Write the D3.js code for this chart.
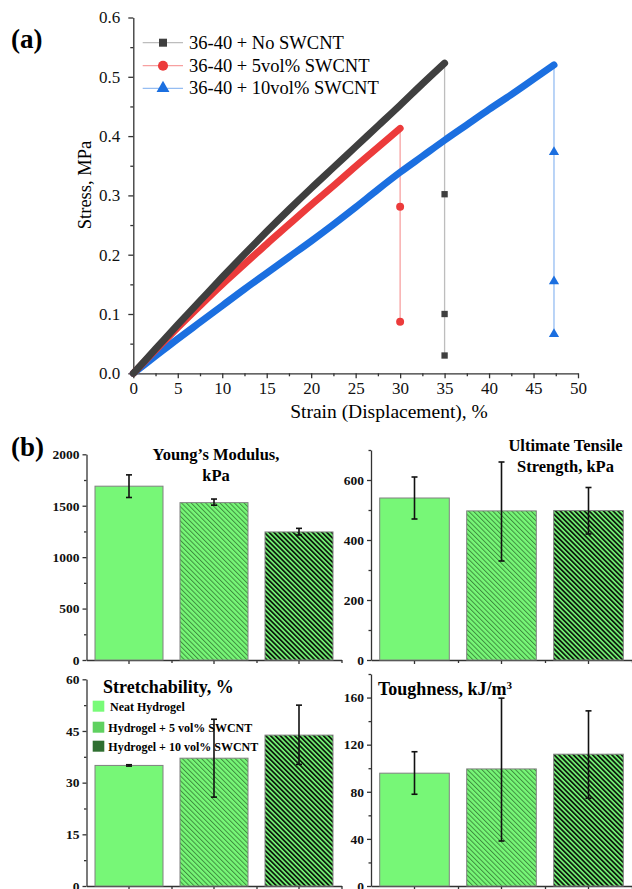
<!DOCTYPE html>
<html>
<head>
<meta charset="utf-8">
<script src="https://cdn.jsdelivr.net/npm/d3@7"></script>
<style>
  body { margin: 0; background: #fff; }
  svg { display: block; font-family: "Liberation Serif", "Times New Roman", serif; }
  .axis path, .axis line { stroke: #333; stroke-width: 1.3; }
  .axis text { fill: #111; }
</style>
</head>
<body>
<div class="chart"></div>
<script>
// DATA ------------------------------------

// (a) stress-strain curves
const strainNo = [0, 2.5, 5, 7.5, 10, 12.5, 15, 17.5, 20, 22.5, 25, 27.5, 30, 32.5, 35];
const stressNo = [0, 0.041, 0.082, 0.122, 0.162, 0.201, 0.239, 0.276, 0.312, 0.347, 0.382, 0.417, 0.452, 0.488, 0.523];
const strain5 = [0, 2.5, 5, 7.5, 10, 12.5, 15, 17.5, 20, 22.5, 25, 27.5, 30];
const stress5 = [0, 0.039, 0.077, 0.114, 0.150, 0.184, 0.218, 0.251, 0.284, 0.316, 0.349, 0.381, 0.413];
const strain10 = [0, 2.5, 5, 7.5, 10, 12.5, 15, 17.5, 20, 22.5, 25, 27.5, 30, 32.5, 35, 37.5, 40, 42.5, 45, 47.3];
const stress10 = [0, 0.029, 0.058, 0.086, 0.114, 0.142, 0.169, 0.196, 0.223, 0.251, 0.280, 0.310, 0.339, 0.366, 0.393, 0.419, 0.445, 0.470, 0.496, 0.520];

// points after failure (drop)
const dropNo = [0.302, 0.100, 0.030];
const drop5 = [0.281, 0.087];
const drop10 = [0.373, 0.155, 0.066];

const seriesNames = ['36-40 + No SWCNT', '36-40 + 5vol% SWCNT', '36-40 + 10vol% SWCNT'];

// (b) bar panels
const groups = ['Neat Hydrogel', 'Hydrogel + 5 vol% SWCNT', 'Hydrogel + 10 vol% SWCNT'];
const youngMean = [1690, 1530, 1245];
const youngLow = [1580, 1505, 1215];
const youngHigh = [1800, 1565, 1280];
const utsMean = [540, 497, 498];
const utsLow = [470, 330, 420];
const utsHigh = [610, 660, 575];
const stretchMean = [35.0, 37.1, 43.8];
const stretchLow = [34.8, 25.8, 35.3];
const stretchHigh = [35.2, 48.4, 52.5];
const toughMean = [95.8, 99.4, 111.9];
const toughLow = [77.9, 38.2, 74.5];
const toughHigh = [114.0, 159.5, 148.7];

// SVG -------------------------------------
const W = 632, H = 889;
const svg = d3.select('.chart').append('svg')
    .attr('width', W)
    .attr('height', H);

// d3 axes put a sans-serif font on their group, drop it
const plain = g => g.attr('font-family', null).attr('font-size', null);

const defs = svg.append('defs');
function hatch(id, lineColor, lineWidth, gap) {
    const p = defs.append('pattern')
        .attr('id', id)
        .attr('patternUnits', 'userSpaceOnUse')
        .attr('width', gap)
        .attr('height', gap)
        .attr('patternTransform', 'rotate(-45)');
    p.append('rect').attr('width', gap).attr('height', gap).attr('fill', '#77f777');
    p.append('rect').attr('width', lineWidth).attr('height', gap).attr('fill', lineColor);
}
hatch('hatch5', '#3f8f3f', 1.0, 3.4);
hatch('hatch10', '#0d1f0d', 1.8, 3.4);
const barFills = ['#77f777', 'url(#hatch5)', 'url(#hatch10)'];
const legendFills = ['#78fb78', '#5fd160', '#2f6f31'];

// (a) STRESS-STRAIN -----------------------
const x = d3.scaleLinear().domain([0, 50]).range([133.3, 578]);
const y = d3.scaleLinear().domain([0, 0.6]).range([373.3, 17.5]);

const gA = svg.append('g');

// minor ticks
gA.append('g').attr('class', 'axis')
    .attr('transform', `translate(0,${y(0)})`)
    .call(d3.axisBottom(x).tickValues(d3.range(2.5, 50, 5)).tickSize(3).tickFormat(''))
    .call(g => g.select('.domain').remove());
gA.append('g').attr('class', 'axis')
    .attr('transform', `translate(${x(0)},0)`)
    .call(d3.axisLeft(y).tickValues(d3.range(0.05, 0.6, 0.1)).tickSize(3).tickFormat(''))
    .call(g => g.select('.domain').remove());

gA.append('g').attr('class', 'axis')
    .attr('transform', `translate(0,${y(0)})`)
    .call(d3.axisBottom(x).tickValues(d3.range(0, 51, 5)).tickSize(5).tickSizeOuter(0).tickPadding(4))
    .call(plain)
    .call(g => g.selectAll('text').attr('font-size', 17));
gA.append('g').attr('class', 'axis')
    .attr('transform', `translate(${x(0)},0)`)
    .call(d3.axisLeft(y).tickValues(d3.range(0, 0.61, 0.1)).tickSize(5).tickSizeOuter(0).tickPadding(8).tickFormat(d3.format('.1f')))
    .call(plain)
    .call(g => g.selectAll('text').attr('font-size', 17));

gA.append('text')
    .attr('x', 389).attr('y', 418)
    .attr('text-anchor', 'middle')
    .attr('font-size', 19.5)
    .text('Strain (Displacement), %');
gA.append('text')
    .attr('transform', 'translate(91,185) rotate(-90)')
    .attr('text-anchor', 'middle')
    .attr('font-size', 18.5)
    .text('Stress, MPa');

const curves = [
    { sx: strainNo, sy: stressNo, drop: dropNo, dark: '#3f3f3f', light: '#bdbdbd', sym: d3.symbolSquare, size: 40 },
    { sx: strain5, sy: stress5, drop: drop5, dark: '#ec3b3b', light: '#f7a0a0', sym: d3.symbolCircle, size: 50 },
    { sx: strain10, sy: stress10, drop: drop10, dark: '#1b6fe0', light: '#95bdf2', sym: d3.symbolTriangle, size: 45 }
];

const line = d3.line()
    .x(d => x(d[0]))
    .y(d => y(d[1]))
    .curve(d3.curveMonotoneX);

curves.forEach(c => {
    const last = [c.sx[c.sx.length - 1], c.sy[c.sy.length - 1]];
    // drop line after failure
    gA.append('line')
        .attr('x1', x(last[0])).attr('x2', x(last[0]))
        .attr('y1', y(last[1])).attr('y2', y(d3.min(c.drop)))
        .attr('stroke', c.light).attr('stroke-width', 1.3);
    gA.selectAll(null)
        .data(c.drop)
        .enter()
        .append('path')
        .attr('d', d3.symbol().type(c.sym).size(c.size))
        .attr('transform', d => `translate(${x(last[0])},${y(d)})`)
        .attr('fill', c.dark);
});
// thick curves drawn from blue to black so black sits on top
curves.slice().reverse().forEach(c => {
    const pts = c.sx.map((v, i) => [v, c.sy[i]]);
    gA.append('path')
        .datum(pts)
        .attr('d', line)
        .attr('fill', 'none')
        .attr('stroke', c.dark)
        .attr('stroke-width', 7)
        .attr('stroke-linecap', 'round')
        .attr('stroke-linejoin', 'round');
});

// legend
const legA = gA.append('g');
const legRows = [42.7, 65.7, 88.3];
curves.forEach((c, i) => {
    legA.append('line')
        .attr('x1', 142.7).attr('x2', 183)
        .attr('y1', legRows[i]).attr('y2', legRows[i])
        .attr('stroke', c.light).attr('stroke-width', 1.3);
    legA.append('path')
        .attr('d', d3.symbol().type(c.sym).size(c.size * 1.6))
        .attr('transform', `translate(163,${legRows[i]})`)
        .attr('fill', c.dark);
    legA.append('text')
        .attr('x', 189).attr('y', legRows[i] + 6)
        .attr('font-size', 18.5)
        .text(seriesNames[i]);
});

// panel letters
svg.append('text').attr('x', 11).attr('y', 48).attr('font-size', 27).attr('font-weight', 'bold').text('(a)');
svg.append('text').attr('x', 11).attr('y', 456).attr('font-size', 27).attr('font-weight', 'bold').text('(b)');

// (b) BAR PANELS --------------------------
function barPanel(o) {
    const g = svg.append('g');
    const xb = d3.scaleBand()
        .domain(groups)
        .range(o.xr)
        .paddingInner(0.2)
        .paddingOuter(0.1);
    const yb = d3.scaleLinear().domain([0, o.top]).range([o.y0, o.yTop]);
    const cx = d => xb(d) + xb.bandwidth() / 2;

    // axes
    const mid = groups.slice(1).map((d, i) => (cx(groups[i]) + cx(d)) / 2);
    g.append('g').attr('class', 'axis')
        .attr('transform', `translate(0,${o.y0})`)
        .call(d3.axisBottom(d3.scaleLinear().domain(o.xr).range(o.xr)).tickValues(mid.concat([o.xr[1]])).tickSize(3).tickFormat(''))
        .call(g => g.select('.domain').remove());
    g.append('g').attr('class', 'axis')
        .attr('transform', `translate(0,${o.y0})`)
        .call(d3.axisBottom(xb).tickSize(4).tickSizeOuter(0).tickFormat(''));
    g.append('g').attr('class', 'axis')
        .attr('transform', `translate(${o.xr[0]},0)`)
        .call(d3.axisLeft(yb).tickValues(o.minor).tickSize(2.5).tickFormat(''))
        .call(g => g.select('.domain').remove());
    g.append('g').attr('class', 'axis')
        .attr('transform', `translate(${o.xr[0]},0)`)
        .call(d3.axisLeft(yb).tickValues(o.ticks).tickSize(4).tickSizeOuter(0).tickPadding(3).tickFormat(d3.format('d')))
        .call(plain)
        .call(g => g.selectAll('text').attr('font-size', 13.5).attr('font-weight', 'bold'));

    // bars
    g.selectAll('rect.bar')
        .data(groups)
        .enter()
        .append('rect')
        .attr('class', 'bar')
        .attr('x', d => xb(d))
        .attr('width', xb.bandwidth())
        .attr('y', (d, i) => yb(o.mean[i]))
        .attr('height', (d, i) => o.y0 - yb(o.mean[i]))
        .attr('fill', (d, i) => barFills[i])
        .attr('stroke', '#808080')
        .attr('stroke-width', 1);

    // error bars
    const eb = g.selectAll('g.err')
        .data(groups)
        .enter()
        .append('g')
        .attr('class', 'err')
        .attr('stroke', '#111')
        .attr('stroke-width', 1.6);
    eb.append('line')
        .attr('x1', cx)
        .attr('x2', cx)
        .attr('y1', (d, i) => yb(o.low[i]))
        .attr('y2', (d, i) => yb(o.high[i]));
    [o.low, o.high].forEach(arr => {
        eb.append('line')
            .attr('x1', d => cx(d) - 3)
            .attr('x2', d => cx(d) + 3)
            .attr('y1', (d, i) => yb(arr[i]))
            .attr('y2', (d, i) => yb(arr[i]));
    });

    // title
    o.title.forEach((t, i) => {
        g.append('text')
            .attr('x', o.tx).attr('y', o.ty + i * 20.5)
            .attr('text-anchor', o.anchor)
            .attr('font-size', o.fs)
            .attr('font-weight', 'bold')
            .html(t);
    });
    return g;
}

barPanel({
    xr: [86.5, 341.5], y0: 660, yTop: 454.3, top: 2000,
    ticks: [0, 500, 1000, 1500, 2000], minor: [250, 750, 1250, 1750],
    mean: youngMean, low: youngLow, high: youngHigh,
    title: ['Young\u2019s Modulus,', 'kPa'], tx: 216, ty: 460, anchor: 'middle', fs: 16.5
});
barPanel({
    xr: [371, 632], y0: 660, yTop: 450, top: 700,
    ticks: [0, 200, 400, 600], minor: [100, 300, 500, 700],
    mean: utsMean, low: utsLow, high: utsHigh,
    title: ['Ultimate Tensile', 'Strength, kPa'], tx: 565.5, ty: 451, anchor: 'middle', fs: 16.5
});
const pStretch = barPanel({
    xr: [86.5, 341.5], y0: 886, yTop: 679.3, top: 60,
    ticks: [0, 15, 30, 45, 60], minor: [7.5, 22.5, 37.5, 52.5],
    mean: stretchMean, low: stretchLow, high: stretchHigh,
    title: ['Stretchability, %'], tx: 103, ty: 693, anchor: 'start', fs: 18
});
barPanel({
    xr: [371, 632], y0: 886, yTop: 674, top: 180,
    ticks: [0, 40, 80, 120, 160], minor: [20, 60, 100, 140, 180],
    mean: toughMean, low: toughLow, high: toughHigh,
    title: ['Toughness, kJ/m<tspan font-size="11" dy="-6">3</tspan>'], tx: 378, ty: 695, anchor: 'start', fs: 18
});

// legend inside stretchability panel
const legRowsB = [706.2, 727.2, 746.2];
groups.forEach((d, i) => {
    pStretch.append('rect')
        .attr('x', 92.7).attr('y', legRowsB[i] - 5.5)
        .attr('width', 11.6).attr('height', 11)
        .attr('fill', legendFills[i]);
    pStretch.append('text')
        .attr('x', i === 0 ? 110 : 108.3).attr('y', legRowsB[i] + 4.5)
        .attr('font-size', 12)
        .attr('font-weight', 'bold')
        .text(d);
});
</script>
</body>
</html>
